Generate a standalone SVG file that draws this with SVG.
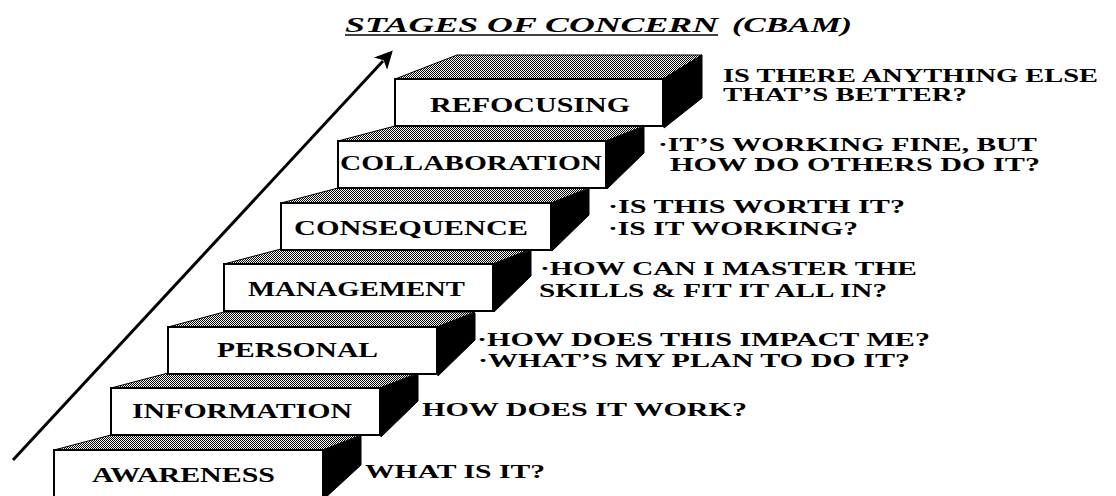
<svg xmlns="http://www.w3.org/2000/svg" width="1116" height="496" viewBox="0 0 1116 496">
<defs>
<pattern id="dots" width="2" height="2" patternUnits="userSpaceOnUse">
<rect width="2" height="2" fill="#fff"/>
<rect width="1" height="1" fill="#000"/>
<rect x="1" y="1" width="1" height="1" fill="#000"/>
</pattern>
<marker id="head" viewBox="0 0 10 10" refX="2" refY="5" markerWidth="20" markerHeight="18" markerUnits="userSpaceOnUse" orient="auto">
<path d="M0,0 L10,5 L0,10 L2.5,5 z" fill="#000"/>
</marker>
<style>
.top{fill:url(#dots);stroke:#000;stroke-width:1}
.side{fill:#000;stroke:#000;stroke-width:1}
.front{fill:#fff;stroke:#000;stroke-width:2}
.lbl{font-family:"Liberation Serif","Times New Roman",serif;font-weight:bold;font-size:20px;fill:#000}
.q{font-family:"Liberation Serif","Times New Roman",serif;font-weight:bold;font-size:19px;fill:#000}
.title{font-family:"Liberation Serif","Times New Roman",serif;font-weight:bold;font-style:italic;font-size:21px;fill:#000}
</style>
</defs>
<rect width="1116" height="496" fill="#fff"/>

<g id="title">
<text class="title" x="345" y="32" textLength="373" lengthAdjust="spacingAndGlyphs">STAGES OF CONCERN</text>
<line x1="345" y1="35" x2="718" y2="35" stroke="#000" stroke-width="1.5"/>
<text class="title" x="732" y="32" textLength="120" lengthAdjust="spacingAndGlyphs">(CBAM)</text>
</g>

<g id="awareness">
<polygon class="top" points="54,450 323,450 361,435 111,435"/>
<polygon class="side" points="323,450 361,436 361,465 323,500"/>
<rect class="front" x="54" y="450" width="269" height="47"/>
<text class="lbl" x="92" y="482" textLength="183" lengthAdjust="spacingAndGlyphs">AWARENESS</text>
<text class="q" x="365" y="478" textLength="180" lengthAdjust="spacingAndGlyphs">WHAT IS IT?</text>
</g>

<g id="information">
<polygon class="top" points="111,388 380,388 418,373 168,373"/>
<polygon class="side" points="380,388 418,374 418,401 381,437"/>
<rect class="front" x="111" y="388" width="269" height="47"/>
<text class="lbl" x="132" y="418" textLength="220" lengthAdjust="spacingAndGlyphs">INFORMATION</text>
<text class="q" x="422" y="416" textLength="325" lengthAdjust="spacingAndGlyphs">HOW DOES IT WORK?</text>
</g>

<g id="personal">
<polygon class="top" points="168,327 437,327 475,312 224,312"/>
<polygon class="side" points="437,327 475,313 475,340 438,376"/>
<rect class="front" x="168" y="327" width="269" height="47"/>
<text class="lbl" x="217" y="357" textLength="161" lengthAdjust="spacingAndGlyphs">PERSONAL</text>
<text class="q" x="477" y="346" textLength="453" lengthAdjust="spacingAndGlyphs">·HOW DOES THIS IMPACT ME?</text>
<text class="q" x="478" y="367" textLength="432" lengthAdjust="spacingAndGlyphs">·WHAT’S MY PLAN TO DO IT?</text>
</g>

<g id="management">
<polygon class="top" points="224,264 493,264 531,249 281,249"/>
<polygon class="side" points="493,264 531,250 531,276 494,312"/>
<rect class="front" x="224" y="264" width="269" height="47"/>
<text class="lbl" x="248" y="296" textLength="217" lengthAdjust="spacingAndGlyphs">MANAGEMENT</text>
<text class="q" x="540" y="275" textLength="377" lengthAdjust="spacingAndGlyphs">·HOW CAN I MASTER THE</text>
<text class="q" x="539" y="297" textLength="348" lengthAdjust="spacingAndGlyphs">SKILLS &amp; FIT IT ALL IN?</text>
</g>

<g id="consequence">
<polygon class="top" points="281,203 551,203 589,188 338,188"/>
<polygon class="side" points="551,203 589,189 589,215 552,251"/>
<rect class="front" x="281" y="203" width="270" height="47"/>
<text class="lbl" x="294" y="235" textLength="234" lengthAdjust="spacingAndGlyphs">CONSEQUENCE</text>
<text class="q" x="608" y="213" textLength="297" lengthAdjust="spacingAndGlyphs">·IS THIS WORTH IT?</text>
<text class="q" x="608" y="235" textLength="250" lengthAdjust="spacingAndGlyphs">·IS IT WORKING?</text>
</g>

<g id="collaboration">
<polygon class="top" points="338,141 606,141 644,126 395,126"/>
<polygon class="side" points="606,141 644,127 644,153 607,189"/>
<rect class="front" x="338" y="141" width="268" height="47"/>
<text class="lbl" x="340" y="170" textLength="262" lengthAdjust="spacingAndGlyphs">COLLABORATION</text>
<text class="q" x="658" y="151" textLength="379" lengthAdjust="spacingAndGlyphs">·IT’S WORKING FINE, BUT</text>
<text class="q" x="670" y="171" textLength="370" lengthAdjust="spacingAndGlyphs">HOW DO OTHERS DO IT?</text>
</g>

<g id="refocusing">
<polygon class="top" points="395,79 663,79 702,55 457,55"/>
<polygon class="side" points="663,79 702,55 702,98 664,128"/>
<rect class="front" x="395" y="79" width="268" height="47"/>
<text class="lbl" x="430" y="112" textLength="200" lengthAdjust="spacingAndGlyphs">REFOCUSING</text>
<text class="q" x="723" y="82" textLength="375" lengthAdjust="spacingAndGlyphs">IS THERE ANYTHING ELSE</text>
<text class="q" x="723" y="101" textLength="244" lengthAdjust="spacingAndGlyphs">THAT’S BETTER?</text>
</g>

<g id="connectors">
<line x1="13" y1="460" x2="383" y2="61" stroke="#000" stroke-width="3" marker-end="url(#head)"/>
</g>
</svg>
